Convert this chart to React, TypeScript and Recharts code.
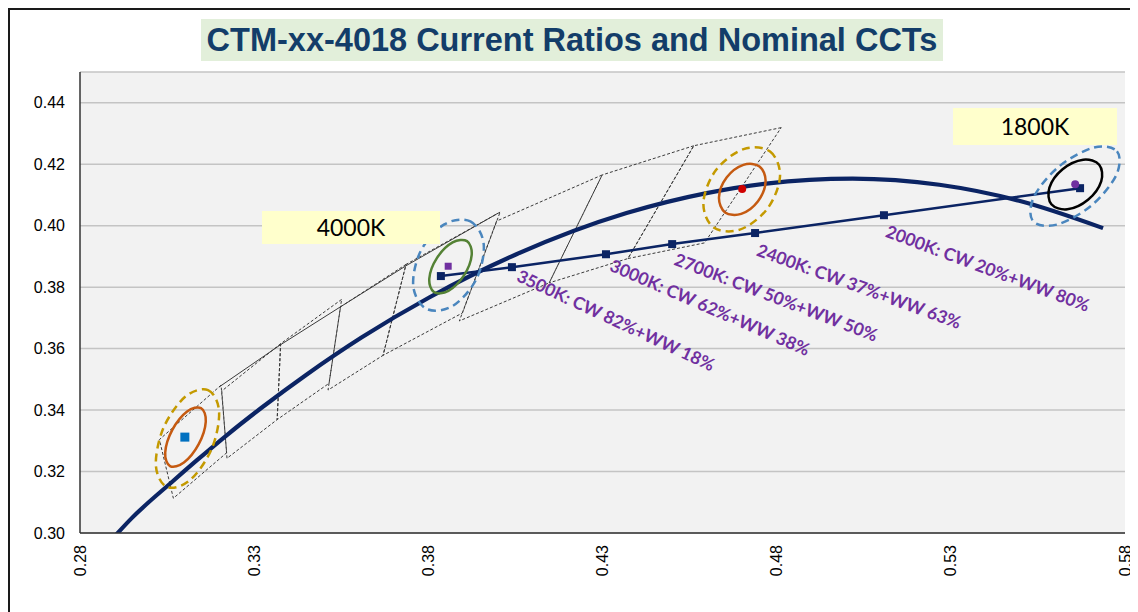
import React from 'react';
import { ComposedChart, Line, Scatter, XAxis, YAxis, CartesianGrid } from 'recharts';

type Pt = [number, number];

const xTicks = [0.28, 0.33, 0.38, 0.43, 0.48, 0.53, 0.58];
const yTicks = [0.3, 0.32, 0.34, 0.36, 0.38, 0.4, 0.42, 0.44];

// black body locus (thick line)
const locusX = [0.287, 0.295, 0.3064, 0.3135, 0.3221, 0.3324, 0.3451, 0.3608, 0.3805, 0.4053, 0.4369, 0.4599, 0.477, 0.5018, 0.5267, 0.5496, 0.5737];
const locusY = [0.2952, 0.305, 0.3166, 0.3236, 0.3318, 0.341, 0.3516, 0.3636, 0.3768, 0.3907, 0.4041, 0.4106, 0.4137, 0.4153, 0.4133, 0.4081, 0.3992];

// CW/WW current ratio line
const ratioX = [0.3836, 0.404, 0.431, 0.45, 0.4738, 0.5108, 0.5671];
const ratioY = [0.3836, 0.3865, 0.3907, 0.394, 0.3976, 0.4034, 0.4122];
const ratioLabels = [
  '',
  '3500K: CW 82%+WW 18%',
  '3000K: CW 62%+WW 38%',
  '2700K: CW 50%+WW 50%',
  '2400K: CW 37%+WW 63%',
  '2000K: CW 20%+WW 80%',
  '',
];
// text tilt of each ratio label, degrees
const labelTilt = [0, 25, 23.5, 21, 20, 20.5, 0];

// nominal CCT quadrangles
const quad6500: Pt[] = [[0.3205, 0.3481], [0.3028, 0.3304], [0.3068, 0.3113], [0.3221, 0.3261]];
const quad5700: Pt[] = [[0.3376, 0.3616], [0.3207, 0.3462], [0.3222, 0.3243], [0.3366, 0.3369]];
const quad5000: Pt[] = [[0.3551, 0.376], [0.3376, 0.3616], [0.3366, 0.3369], [0.3515, 0.3487]];
const quad4500: Pt[] = [[0.3736, 0.3874], [0.3548, 0.3736], [0.3512, 0.3465], [0.367, 0.3578]];
const quad4000: Pt[] = [[0.4006, 0.4044], [0.3736, 0.3874], [0.367, 0.3578], [0.3898, 0.3716]];
const quad3500: Pt[] = [[0.4299, 0.4165], [0.3996, 0.4015], [0.3889, 0.369], [0.4147, 0.3814]];
const quad3000: Pt[] = [[0.4562, 0.426], [0.4299, 0.4165], [0.4147, 0.3814], [0.4373, 0.3893]];
const quad2700: Pt[] = [[0.4813, 0.4319], [0.4562, 0.426], [0.4373, 0.3893], [0.4593, 0.3944]];

// solid upper edge, 6500K to 4000K
const upperEdge: Pt[] = [[0.3199, 0.34748], [0.33742, 0.36114], [0.35464, 0.3735], [0.37388, 0.38715], [0.4, 0.40406]];

// tolerance ellipses (points on the outline)
const ell6500Inner: Pt[] = [[0.31474, 0.34065], [0.31611, 0.33626], [0.31408, 0.32891], [0.30983, 0.32293], [0.30584, 0.32179], [0.30446, 0.32618], [0.3065, 0.33353], [0.31075, 0.33951]];
const ell6500Outer: Pt[] = [[0.31675, 0.3465], [0.31993, 0.33954], [0.31781, 0.32741], [0.31161, 0.31724], [0.30498, 0.31496], [0.30179, 0.32192], [0.30391, 0.33405], [0.31011, 0.34423]];
const ell4000Inner: Pt[] = [[0.3911, 0.39496], [0.39245, 0.3905], [0.39024, 0.38384], [0.38576, 0.3788], [0.38163, 0.37837], [0.38028, 0.3828], [0.38249, 0.3895], [0.38697, 0.39454]];
const ell4000Outer: Pt[] = [[0.39208, 0.4014], [0.39589, 0.39405], [0.3938, 0.38263], [0.387, 0.37389], [0.3795, 0.37291], [0.37568, 0.38026], [0.37778, 0.39167], [0.38458, 0.40042]];
const ell2700Inner: Pt[] = [[0.47507, 0.41928], [0.47682, 0.41437], [0.47464, 0.40797], [0.46982, 0.40384], [0.4652, 0.40432], [0.46344, 0.40923], [0.46563, 0.41564], [0.47045, 0.41977]];
const ell2700Outer: Pt[] = [[0.47811, 0.4241], [0.48096, 0.41607], [0.47734, 0.40553], [0.46942, 0.3987], [0.46181, 0.39951], [0.45897, 0.40754], [0.46258, 0.41808], [0.47051, 0.42491]];
const ell1800Inner: Pt[] = [[0.57259, 0.41984], [0.57317, 0.41444], [0.56938, 0.40845], [0.56346, 0.40533], [0.55887, 0.40696], [0.5583, 0.41236], [0.56208, 0.41834], [0.568, 0.42146]];
const ell1800Outer: Pt[] = [[0.5777, 0.42419], [0.57747, 0.41639], [0.5703, 0.4065], [0.56042, 0.40033], [0.55359, 0.4015], [0.55382, 0.4093], [0.56099, 0.41919], [0.57087, 0.42536]];

// single points
const pt6500: Pt = [0.3101, 0.3312];
const pt4000: Pt = [0.3857, 0.3868];
const pt2700: Pt = [0.4701, 0.4119];
const pt1800: Pt = [0.5657, 0.4135];

const rows = (pts: Pt[]) => pts.map(([x, y]) => ({ x, y }));
const zip = (xs: number[], ys: number[]) => xs.map((x, i) => ({ x, y: ys[i] }));

const locusData = zip(locusX, locusY);
const ratioData = ratioX.map((x, i) => ({ x, y: ratioY[i], label: ratioLabels[i], tilt: labelTilt[i] }));
const labelData = ratioData.filter((d) => d.label);
const quads = [quad6500, quad5700, quad5000, quad4500, quad4000, quad3500, quad3000, quad2700];

// closed smooth curve through the points (catmull-rom)
const smoothClosed: any = (context: any) => {
  let pts: number[][] = [];
  return {
    areaStart() {},
    areaEnd() {},
    lineStart() {
      pts = [];
    },
    point(x: number, y: number) {
      pts.push([+x, +y]);
    },
    lineEnd() {
      const n = pts.length;
      if (n < 3) return;
      context.moveTo(pts[0][0], pts[0][1]);
      for (let i = 0; i < n; i++) {
        const p0 = pts[(i + n - 1) % n];
        const p1 = pts[i];
        const p2 = pts[(i + 1) % n];
        const p3 = pts[(i + 2) % n];
        context.bezierCurveTo(
          p1[0] + (p2[0] - p0[0]) / 6,
          p1[1] + (p2[1] - p0[1]) / 6,
          p2[0] - (p3[0] - p1[0]) / 6,
          p2[1] - (p3[1] - p1[1]) / 6,
          p2[0],
          p2[1]
        );
      }
      context.closePath();
    },
  };
};

const NAVY = '#0b2464';
const PURPLE = '#7030a0';

function XTick({ x, y, payload }: any) {
  return (
    <text
      x={x}
      y={y}
      transform={`rotate(-90 ${x} ${y})`}
      textAnchor="end"
      dominantBaseline="central"
      fontSize={16}
      fill="#000"
    >
      {payload.value.toFixed(2)}
    </text>
  );
}

const squareDot = (p: any) => (
  <rect key={`sq-${p.index}`} x={p.cx - 4} y={p.cy - 4} width={8} height={8} fill={NAVY} />
);

const ratioLabel = (p: any) => {
  const cx = p.cx + 104;
  const cy = p.cy + 53;
  return (
    <text
      x={cx}
      y={cy}
      transform={`rotate(${p.payload.tilt} ${cx} ${cy})`}
      textAnchor="middle"
      dominantBaseline="central"
      fontFamily="Lato, 'Noto Sans', sans-serif"
      fontWeight={700}
      fontSize={17.5}
      fill={PURPLE}
    >
      {p.payload.label}
    </text>
  );
};

const ellipse = (key: string, pts: Pt[], color: string, dashed: boolean) => (
  <Line
    key={key}
    data={rows(pts)}
    dataKey="y"
    type={smoothClosed}
    stroke={color}
    strokeWidth={2.5}
    strokeDasharray={dashed ? '8 5' : undefined}
    dot={false}
    activeDot={false}
    isAnimationActive={false}
  />
);

export default function App() {
  return (
    <div
      style={{
        position: 'relative',
        width: 1126,
        height: 620,
        border: '2px solid #1a1a1a',
        boxSizing: 'border-box',
        background: '#fff',
        fontFamily: "'Liberation Sans', Arial, sans-serif",
      }}
    >
      <ComposedChart width={1122} height={600} margin={{ top: 62, right: 7, bottom: 17, left: 0 }}>
        <CartesianGrid vertical={false} fill="#f2f2f2" stroke="#c4c4c4" strokeWidth={1.5} />
        <XAxis
          type="number"
          dataKey="x"
          domain={[0.28, 0.58]}
          ticks={xTicks}
          interval={0}
          allowDataOverflow
          height={60}
          tickLine={false}
          tickMargin={6}
          tick={<XTick />}
          axisLine={{ stroke: '#333', strokeWidth: 1.5 }}
        />
        <YAxis
          type="number"
          dataKey="y"
          domain={[0.3, 0.45]}
          ticks={yTicks}
          interval={0}
          allowDataOverflow
          width={70}
          tickLine={false}
          tickMargin={9}
          tick={{ fill: '#000', fontSize: 16 }}
          tickFormatter={(v) => v.toFixed(2)}
          axisLine={{ stroke: '#333', strokeWidth: 1.5 }}
        />
        {quads.map((q, i) => (
          <Line
            key={`quad-${i}`}
            data={rows(q)}
            dataKey="y"
            type="linearClosed"
            stroke="#3a3a3a"
            strokeWidth={1}
            strokeDasharray="3 2"
            dot={false}
            activeDot={false}
            isAnimationActive={false}
          />
        ))}
        <Line
          data={rows(upperEdge)}
          dataKey="y"
          type="linear"
          stroke="#3a3a3a"
          strokeWidth={1}
          dot={false}
          activeDot={false}
          isAnimationActive={false}
        />
        <Line
          data={locusData}
          dataKey="y"
          type="monotone"
          stroke={NAVY}
          strokeWidth={4.2}
          dot={false}
          activeDot={false}
          isAnimationActive={false}
        />
        <Line
          data={ratioData}
          dataKey="y"
          type="linear"
          stroke={NAVY}
          strokeWidth={2.5}
          dot={squareDot}
          activeDot={false}
          isAnimationActive={false}
        />
        {ellipse('e65i', ell6500Inner, '#c55a11', false)}
        {ellipse('e65o', ell6500Outer, '#c49a00', true)}
        {ellipse('e40i', ell4000Inner, '#548235', false)}
        {ellipse('e40o', ell4000Outer, '#4a86be', true)}
        {ellipse('e27i', ell2700Inner, '#c55a11', false)}
        {ellipse('e27o', ell2700Outer, '#c49a00', true)}
        {ellipse('e18i', ell1800Inner, '#000000', false)}
        {ellipse('e18o', ell1800Outer, '#4a86be', true)}
        <Scatter
          data={rows([pt6500])}
          dataKey="y"
          isAnimationActive={false}
          shape={(p: any) => <rect x={p.cx - 4.5} y={p.cy - 4.5} width={9} height={9} fill="#0070c0" />}
        />
        <Scatter
          data={rows([pt4000])}
          dataKey="y"
          isAnimationActive={false}
          shape={(p: any) => <rect x={p.cx - 3.5} y={p.cy - 3.5} width={7} height={7} fill={PURPLE} />}
        />
        <Scatter
          data={rows([pt2700])}
          dataKey="y"
          isAnimationActive={false}
          shape={(p: any) => <circle cx={p.cx} cy={p.cy} r={4} fill="#d00000" />}
        />
        <Scatter
          data={rows([pt1800])}
          dataKey="y"
          isAnimationActive={false}
          shape={(p: any) => <circle cx={p.cx} cy={p.cy} r={4} fill={PURPLE} />}
        />
        <Scatter data={labelData} dataKey="y" isAnimationActive={false} shape={ratioLabel} />
      </ComposedChart>

      <div
        style={{
          position: 'absolute',
          left: 191,
          top: 9,
          width: 742,
          height: 42,
          background: '#e2efda',
          color: '#133d69',
          fontWeight: 700,
          fontSize: 32.5,
          lineHeight: '42px',
          textAlign: 'center',
          whiteSpace: 'nowrap',
        }}
      >
        CTM-xx-4018 Current Ratios and Nominal CCTs
      </div>
      <div
        style={{
          position: 'absolute',
          left: 252,
          top: 201,
          width: 178,
          height: 33,
          background: '#ffffcc',
          fontFamily: "Lato, 'Noto Sans', sans-serif",
          fontSize: 23,
          lineHeight: '33px',
          textAlign: 'center',
          color: '#000',
        }}
      >
        4000K
      </div>
      <div
        style={{
          position: 'absolute',
          left: 943,
          top: 98,
          width: 164,
          height: 37,
          background: '#ffffcc',
          fontFamily: "Lato, 'Noto Sans', sans-serif",
          fontSize: 23,
          lineHeight: '37px',
          textAlign: 'center',
          color: '#000',
        }}
      >
        1800K
      </div>
    </div>
  );
}
